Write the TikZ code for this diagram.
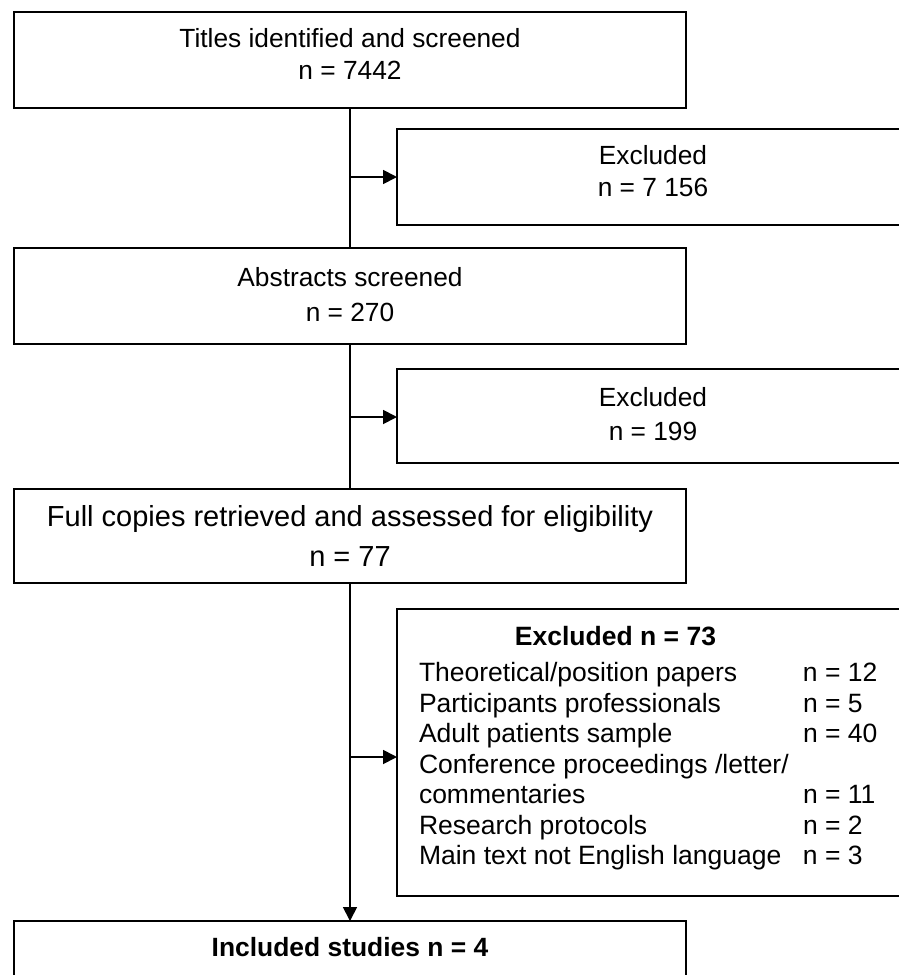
\documentclass[tikz,border=0pt]{standalone}
\usepackage{fontspec}
\setmainfont{Liberation Sans}
\usetikzlibrary{arrows.meta}
\newcommand{\twolines}[2]{\begin{tabular}[t]{@{}c@{}}#1\\#2\end{tabular}}
\tikzset{
  box/.style={draw, line width=1.8pt, inner sep=0pt, outer sep=0pt},
  txt/.style={inner sep=0pt, outer sep=0pt, anchor=base},
  conn/.style={line width=1.8pt},
  arr/.style={line width=1.8pt, -{Triangle[length=14pt,width=14pt]}}
}
\begin{document}
\begin{tikzpicture}[x=1pt,y=1pt]
\useasboundingbox (0,0) rectangle (899,-975);
\clip (0,0) rectangle (899,-975);
\fill[white] (0,0) rectangle (899,-975);
% boxes
\node[box, minimum width=672pt, minimum height=96pt] (b1) at (350,-60) {};
\node[box, minimum width=515pt, minimum height=96pt] (e1) at (654.5,-177) {};
\node[box, minimum width=672pt, minimum height=96pt] (b2) at (350,-296) {};
\node[box, minimum width=515pt, minimum height=94pt] (e2) at (654.5,-416) {};
\node[box, minimum width=672pt, minimum height=94pt] (b3) at (350,-536) {};
\node[box, minimum width=515pt, minimum height=287pt] (e3) at (654.5,-752.5) {};
\node[box, minimum width=672pt, minimum height=79pt] (b4) at (350,-960.5) {};
% texts
\node[txt, font=\fontsize{26.3}{32.5}\selectfont] (t1) at (350,-47.4) {\twolines{Titles identified and screened}{n = 7442}};
\node[txt, font=\fontsize{26.3}{32}\selectfont] (te1) at (653,-164.4) {\twolines{Excluded}{n = 7 156}};
\node[txt, font=\fontsize{26.3}{35}\selectfont] (t2) at (350,-286) {\twolines{Abstracts screened}{n = 270}};
\node[txt, font=\fontsize{26.3}{34}\selectfont] (te2) at (653,-406.4) {\twolines{Excluded}{n = 199}};
\node[txt, font=\fontsize{29}{40}\selectfont] (t3) at (350,-526.5) {\twolines{Full copies retrieved and assessed for eligibility}{n = 77}};
\node[txt, font=\fontsize{26.5}{30.5}\selectfont\bfseries] (te3) at (615.5,-645.5) {Excluded n = 73};
\node[txt, anchor=base west, font=\fontsize{26.5}{30.5}\selectfont] (list) at (419,-681.5) {%
\begin{tabular}[t]{@{}p{384pt}@{}l@{}}
Theoretical/position papers & n = 12\\
Participants professionals & n = 5\\
Adult patients sample & n = 40\\
Conference proceedings /letter/ & \\
commentaries & n = 11\\
Research protocols & n = 2\\
Main text not English language & n = 3
\end{tabular}};
\node[txt, font=\fontsize{26.4}{30}\selectfont\bfseries] (t4) at (350,-956.4) {Included studies n = 4};
% connectors
\draw[conn] (b1.south) -- (b2.north);
\draw[conn] (b2.south) -- (b3.north);
\draw[arr] (b3.south) -- (b4.north);
\coordinate (j1) at (350,-177);
\coordinate (j2) at (350,-417);
\coordinate (j3) at (350,-757);
\draw[arr] (j1) -- (j1 -| e1.west);
\draw[arr] (j2) -- (j2 -| e2.west);
\draw[arr] (j3) -- (j3 -| e3.west);
\end{tikzpicture}
\end{document}
